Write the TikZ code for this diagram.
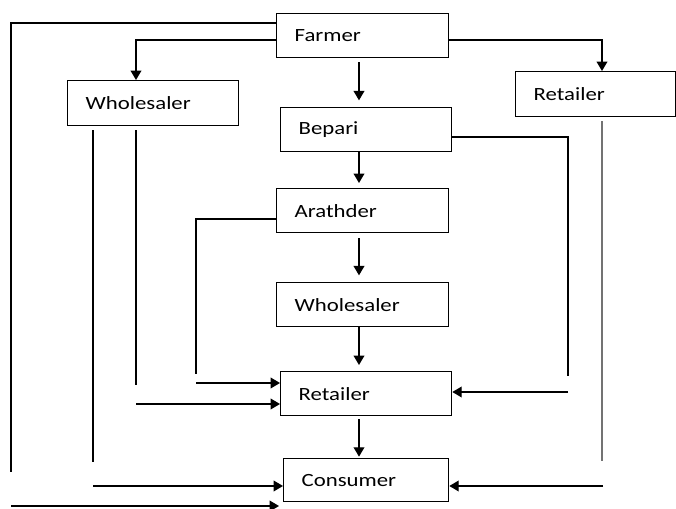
\documentclass[tikz,border=0pt]{standalone}
\usepackage{fontspec}
\setmainfont{Carlito}[FakeStretch=1.22]
\usetikzlibrary{arrows.meta}
\tikzset{every picture/.style={line width=1pt}}
\tikzset{
  stage/.style={draw, anchor=north west, align=left, inner xsep=13.5pt, inner ysep=0pt,
    font=\fontsize{14}{16}\selectfont},
  flow/.style={-{Triangle[length=7pt,width=8pt]}},
}
\begin{document}
\begin{tikzpicture}[x=0.75pt,y=0.75pt,yscale=-1,xscale=1]
  \useasboundingbox (0,0) rectangle (676,509);

  % Text Nodes
  \node[stage, text width=102pt, minimum height=33pt] (farmer) at (276,13) {Farmer};
  \node[stage, text width=101.25pt, minimum height=33.75pt] (whole1) at (67,80) {Wholesaler};
  \node[stage, text width=93pt, minimum height=33.75pt] (retail1) at (515,71) {Retailer};
  \node[stage, text width=101.25pt, minimum height=33pt] (bepari) at (280,107) {Bepari};
  \node[stage, text width=102pt, minimum height=33pt] (arathder) at (276,188) {Arathder};
  \node[stage, text width=102pt, minimum height=33pt] (whole2) at (276,282) {Wholesaler};
  \node[stage, text width=101.25pt, minimum height=33pt] (retail2) at (280,371) {Retailer};
  \node[stage, text width=96.75pt, minimum height=32.25pt] (consumer) at (283,458) {Consumer};

  % Free ends
  \coordinate (spine) at (359,0);
  \coordinate (farend) at (11,472);
  \coordinate (farfeed) at (11,506);
  \coordinate (w1far) at (93,462);
  \coordinate (w1near) at (136,385);
  \coordinate (w1feed) at (136,404);
  \coordinate (w1cons) at (93,486);
  \coordinate (arend) at (196,374);
  \coordinate (arfeed) at (196,383);
  \coordinate (bepend) at (568,376);
  \coordinate (bepfeed) at (568,392);
  \coordinate (r1end) at (602,461);
  \coordinate (r1cons) at (603,486);

  % From farmer
  \draw (farmer.west |- 0,23) -| (farend);
  \draw[flow] (farmer.west |- 0,40) -| (whole1.north -| w1near);
  \draw[flow] (farmer.east |- 0,40) -| (retail1.north -| r1end);

  % Main chain
  \draw[flow, shorten <=3pt, shorten >=5pt] (farmer.south -| spine) -- (bepari.north -| spine);
  \draw[flow, shorten >=3.75pt] (bepari.south -| spine) -- (arathder.north -| spine);
  \draw[flow, shorten <=3.75pt, shorten >=5pt] (arathder.south -| spine) -- (whole2.north -| spine);
  \draw[flow, shorten >=4.5pt] (whole2.south -| spine) -- (retail2.north -| spine);
  \draw[flow, shorten <=2.25pt, shorten >=1pt] (retail2.south -| spine) -- (consumer.north -| spine);

  % Side channels
  \draw[shorten <=3pt] (whole1.south -| w1far) -- (w1far);
  \draw[shorten <=3pt] (whole1.south -| w1near) -- (w1near);
  \draw (arathder.west |- 0,219) -| (arend);
  \draw (bepari.east |- 0,137) -| (bepend);
  \draw[black!55, line width=1.5pt, shorten <=3pt] (retail1.south -| r1end) -- (r1end);

  % Into retailer and consumer
  \draw[flow] (arfeed) -- (retail2.west |- arfeed);
  \draw[flow] (w1feed) -- (retail2.west |- w1feed);
  \draw[flow] (bepfeed) -- (retail2.east |- bepfeed);
  \draw[flow] (w1cons) -- (consumer.west |- w1cons);
  \draw[flow] (r1cons) -- (consumer.east |- r1cons);
  \draw[flow, shorten >=3pt] (farfeed) -- (consumer.west |- farfeed);
\end{tikzpicture}
\end{document}
